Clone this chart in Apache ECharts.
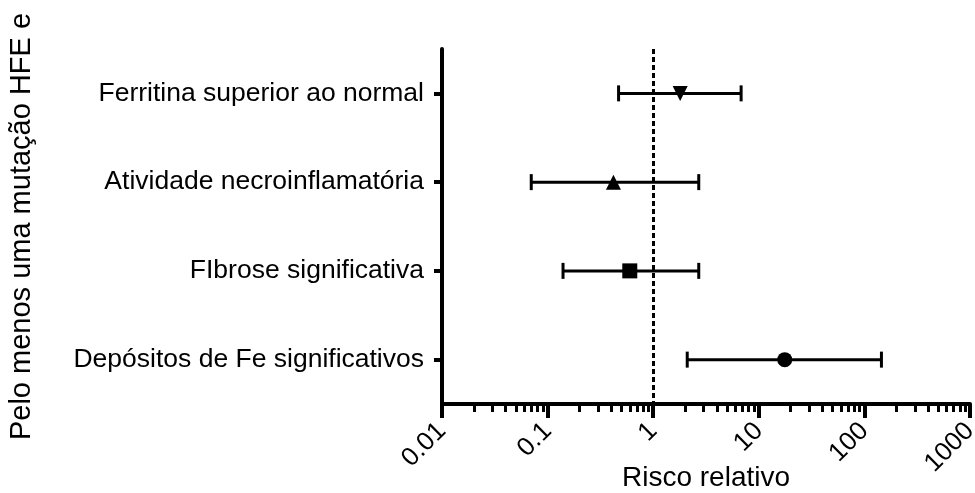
<!DOCTYPE html>
<html>
<head>
<meta charset="utf-8">
<script src="https://cdn.jsdelivr.net/npm/echarts@6/dist/echarts.min.js"></script>
<style>
  html, body { margin: 0; padding: 0; background: #fff; }
  #chart { width: 975px; height: 493px; }
</style>
</head>
<body>
<div id="chart"></div>
<script>
// Outcomes (top to bottom)
const categories = [
  'Ferritina superior ao normal',
  'Atividade necroinflamatória',
  'FIbrose significativa',
  'Depósitos de Fe significativos'
];
// Relative risk and 95% confidence limits
const riskRatio = [1.8, 0.42, 0.6, 17.6];
const ciLow = [0.47, 0.07, 0.14, 2.1];
const ciHigh = [6.8, 2.7, 2.7, 145];
const markerSymbols = ['triangle', 'triangle', 'rect', 'circle'];
const markerRotations = [180, 0, 0, 0];

// Axis ticks
const majorTicks = [0.01, 0.1, 1, 10, 100, 1000];
const minorTicks = [
  0.02, 0.03, 0.04, 0.05, 0.06, 0.07, 0.08, 0.09,
  0.2, 0.3, 0.4, 0.5, 0.6, 0.7, 0.8, 0.9,
  2, 3, 4, 5, 6, 7, 8, 9,
  20, 30, 40, 50, 60, 70, 80, 90,
  200, 300, 400, 500, 600, 700, 800, 900
];
const referenceValue = 1;

const FONT = "'Liberation Sans', Arial, Helvetica, sans-serif";
const INK = '#000';

const chart = echarts.init(document.getElementById('chart'), null, { renderer: 'canvas' });

const errorData = categories.map((c, i) => [i, ciLow[i], ciHigh[i]]);
const pointData = categories.map((c, i) => ({
  value: [riskRatio[i], i],
  symbol: markerSymbols[i],
  symbolRotate: markerRotations[i]
}));

const option = {
  animation: false,
  backgroundColor: '#fff',
  grid: { left: 442, right: 5, top: 49, bottom: 89, containLabel: false, outerBoundsMode: 'none' },
  xAxis: [
    {
      type: 'log',
      logBase: 10,
      min: 0.01,
      max: 1000,
      position: 'bottom',
      name: 'Risco relativo',
      nameLocation: 'middle',
      nameGap: 60,
      nameMoveOverlap: false,
      nameTextStyle: { fontFamily: FONT, fontSize: 28, color: INK },
      axisLine: { show: true, lineStyle: { color: INK, width: 4 } },
      axisTick: { show: true, customValues: majorTicks, length: 14, lineStyle: { color: INK, width: 4 } },
      axisLabel: {
        customValues: majorTicks,
        rotate: 45,
        margin: 23,
        fontFamily: FONT,
        fontSize: 26,
        color: INK,
        formatter: v => String(v)
      },
      splitLine: { show: false },
      minorTick: { show: false }
    },
    {
      type: 'log',
      logBase: 10,
      min: 0.01,
      max: 1000,
      position: 'bottom',
      offset: 0,
      axisLine: { show: false },
      axisTick: { show: true, customValues: minorTicks, length: 8, lineStyle: { color: INK, width: 3 } },
      axisLabel: { show: false },
      splitLine: { show: false }
    }
  ],
  yAxis: {
    type: 'category',
    data: categories,
    inverse: true,
    boundaryGap: true,
    name: 'Pelo menos uma mutação HFE e',
    nameLocation: 'middle',
    nameRotate: 90,
    nameGap: 406,
    nameMoveOverlap: false,
    nameTextStyle: { fontFamily: FONT, fontSize: 29, color: INK },
    axisLine: { show: true, lineStyle: { color: INK, width: 4 } },
    axisTick: { show: true, alignWithLabel: true, length: 8, lineStyle: { color: INK, width: 4 } },
    axisLabel: { margin: 18, fontFamily: FONT, fontSize: 26.5, color: INK },
    splitLine: { show: false }
  },
  series: [
    {
      type: 'custom',
      xAxisIndex: 0,
      data: errorData,
      encode: { x: [1, 2], y: 0 },
      renderItem: function (params, api) {
        const row = api.value(0);
        const lo = api.coord([api.value(1), row]);
        const hi = api.coord([api.value(2), row]);
        const cap = 8;
        const st = { stroke: INK, lineWidth: 3 };
        return {
          type: 'group',
          children: [
            { type: 'line', shape: { x1: lo[0], y1: lo[1], x2: hi[0], y2: hi[1] }, style: st },
            { type: 'line', shape: { x1: lo[0], y1: lo[1] - cap, x2: lo[0], y2: lo[1] + cap }, style: st },
            { type: 'line', shape: { x1: hi[0], y1: hi[1] - cap, x2: hi[0], y2: hi[1] + cap }, style: st }
          ]
        };
      },
      z: 3
    },
    {
      type: 'scatter',
      xAxisIndex: 0,
      data: pointData,
      symbolSize: 15,
      itemStyle: { color: INK, opacity: 1 },
      z: 4,
      markLine: {
        silent: true,
        symbol: 'none',
        label: { show: false },
        lineStyle: { color: INK, width: 3, type: [5, 3] },
        data: [{ xAxis: referenceValue }]
      }
    }
  ]
};

chart.setOption(option);
</script>
</body>
</html>
